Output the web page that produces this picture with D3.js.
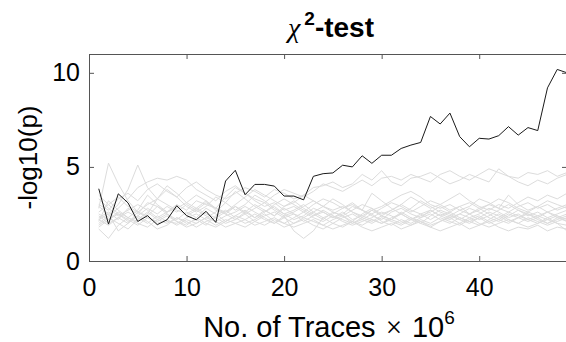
<!DOCTYPE html>
<html>
<head>
<meta charset="utf-8">
<script src="https://cdn.jsdelivr.net/npm/d3@7"></script>
<style>
  html, body { margin: 0; padding: 0; background: #fff; }
  svg { display: block; }
  text { font-family: "Liberation Sans", Arial, Helvetica, sans-serif; fill: #000; }
</style>
</head>
<body>
<svg id="chart" width="566" height="342"></svg>
<script>
// Trace counts (millions) at which the test statistic was evaluated
const traces = d3.range(1, 50);

// -log10(p) of the leaking key guess
const keyLine = [3.84,1.96,3.57,3.09,2.10,2.41,1.93,2.19,2.94,2.41,2.19,2.64,2.05,4.25,4.82,3.52,4.07,4.07,3.98,3.45,
  3.45,3.25,4.50,4.64,4.68,5.09,5.00,5.59,5.19,5.62,5.62,5.98,6.16,6.30,7.68,7.28,7.86,6.61,6.07,6.52,
  6.48,6.66,7.14,6.69,7.09,6.93,9.20,10.18,10.00];

// -log10(p) of the other key guesses
const g1  = [2.3,2.6,2.2,2.8,2.5,3.1,2.9,2.6,3.0,2.7,3.2,3.0,2.8,3.4,3.9,3.6,3.3,3.1,3.5,3.8,3.6,3.4,3.7,4.1,3.9,3.7,4.0,4.3,4.0,4.4,4.5,4.3,4.6,4.4,4.2,4.6,4.8,4.5,4.3,4.6,4.9,4.7,4.5,4.4,4.7,4.6,4.8,4.5,4.7];
const g2  = [3.0,2.7,3.3,3.6,3.2,3.8,4.1,3.7,3.4,3.9,4.2,3.8,3.5,3.3,3.6,3.9,3.7,3.4,3.8,3.6,3.3,3.5,3.9,4.0,4.2,3.9,4.1,4.6,4.3,4.8,4.2,4.0,4.4,4.5,4.7,4.4,4.1,4.3,4.6,4.4,4.2,4.9,4.5,4.2,4.0,4.3,4.1,4.4,4.6];
const g3  = [2.8,5.2,4.1,3.2,2.6,2.4,2.9,2.5,2.2,2.6,2.3,2.8,2.5,2.1,2.4,2.7,2.3,2.6,2.9,2.5,2.2,2.4,2.8,2.6,2.3,2.5,2.9,2.7,2.4,2.2,2.6,2.8,2.5,2.3,2.7,2.4,2.2,2.5,2.8,2.6,2.3,2.1,2.4,2.7,2.5,2.3,2.6,2.4,2.2];
const g4  = [2.2,2.5,3.0,3.8,5.1,3.9,3.3,4.0,3.6,3.1,2.8,3.2,2.7,2.5,2.9,2.6,2.3,2.7,2.4,2.9,3.2,2.8,2.5,2.2,2.6,2.4,2.1,2.5,2.8,2.4,2.2,2.6,2.3,2.0,2.4,2.7,2.5,2.2,2.0,2.3,2.6,2.4,2.1,2.3,2.5,2.2,2.0,2.3,2.1];
const g5  = [2.0,2.4,2.8,3.3,3.9,4.2,4.4,4.3,4.5,4.3,3.8,3.5,3.2,3.7,4.0,3.6,3.2,2.9,3.1,2.7,2.9,2.6,3.0,3.3,3.1,2.8,3.0,2.7,2.5,2.8,3.1,2.9,2.6,2.9,3.2,3.0,2.7,2.9,3.1,2.8,3.0,3.3,3.1,2.8,2.6,2.9,3.2,3.0,2.8];
const g6  = [1.7,1.2,1.9,2.3,2.0,1.8,2.2,2.5,2.1,1.9,2.3,2.0,1.8,2.1,2.4,2.2,1.9,2.1,2.3,2.0,1.8,2.0,2.2,1.9,1.7,1.9,2.1,1.8,1.6,1.8,2.0,1.7,1.9,2.1,1.8,1.6,1.8,2.0,1.7,1.9,2.1,1.8,1.6,1.8,1.7,1.9,1.6,1.8,1.7];
const g7  = [2.5,2.2,2.6,2.3,2.7,3.5,3.0,2.6,2.9,2.4,2.7,3.1,2.8,2.5,2.2,2.6,3.0,2.7,2.4,2.8,2.5,2.3,2.6,2.9,3.3,3.0,2.6,2.3,2.7,2.4,2.2,2.5,2.8,3.2,2.9,2.6,2.4,2.7,2.9,3.3,3.1,2.8,3.5,3.0,2.7,2.9,2.6,2.8,3.0];
const g8  = [2.9,2.5,1.6,2.0,2.4,2.1,1.7,1.9,2.3,2.0,2.2,1.9,2.4,2.7,2.3,2.0,2.2,2.5,2.1,1.8,2.0,2.3,2.1,1.9,2.2,2.4,2.0,2.2,2.5,2.1,1.9,2.2,2.0,2.3,2.5,2.2,2.0,2.3,2.1,1.9,2.2,2.5,2.2,2.0,2.3,2.1,1.9,2.1,2.3];
const g9  = [2.1,3.2,2.7,2.3,2.1,2.5,3.3,3.8,3.4,2.9,2.6,2.9,3.4,3.1,2.7,3.0,3.5,3.2,2.8,2.5,2.7,3.0,2.6,2.3,2.5,2.8,3.1,2.7,3.6,3.2,2.8,2.5,2.2,2.5,2.7,2.4,2.6,2.9,2.5,2.2,2.4,2.7,3.0,2.7,2.4,2.6,2.3,2.5,2.7];
const g10 = [2.4,2.0,2.3,2.6,2.3,2.0,2.4,2.1,2.0,2.3,2.5,2.2,1.9,2.2,2.0,1.8,2.1,2.4,2.6,2.3,2.0,2.2,1.9,1.7,2.0,2.3,2.5,2.2,2.0,2.3,2.1,1.9,2.2,2.0,1.8,2.1,2.4,2.2,2.5,2.8,2.5,2.2,2.0,2.3,2.6,2.4,2.2,2.0,1.9];
const g11 = [3.3,2.8,2.4,2.7,3.0,2.7,2.3,2.6,2.8,3.1,3.5,3.2,2.8,2.6,2.9,2.5,2.8,3.1,2.7,2.4,2.6,2.9,3.2,2.9,2.6,2.4,2.7,3.0,2.8,2.5,2.7,3.0,3.4,3.1,2.8,3.0,3.3,3.6,3.2,2.9,2.7,3.0,2.8,3.1,3.4,3.2,3.5,3.3,3.6];
const g12 = [1.9,2.3,2.0,1.7,2.2,2.6,2.2,2.0,2.3,2.1,1.8,2.1,2.3,2.0,2.2,2.5,2.1,1.9,2.2,2.0,2.3,2.6,2.3,2.1,2.4,2.1,1.9,2.1,2.3,2.6,2.4,2.1,1.9,2.2,2.0,2.3,2.1,1.9,2.2,2.4,2.1,2.3,2.6,2.4,2.2,2.0,2.2,2.4,2.1];
const g13 = [2.6,3.0,2.5,2.1,2.4,2.8,2.5,2.9,2.6,3.0,2.7,2.4,2.1,2.4,2.6,2.9,2.6,2.3,2.0,2.3,2.5,2.1,2.4,2.7,2.4,2.2,2.0,2.3,2.1,2.4,2.7,3.0,2.7,2.5,2.2,2.5,2.3,2.0,2.3,2.5,2.8,2.6,2.3,2.5,2.2,2.4,2.6,2.3,2.5];
const g14 = [2.2,1.9,2.3,2.0,2.6,2.3,2.0,2.2,1.9,2.2,2.0,2.3,2.6,3.1,3.7,3.3,2.9,2.6,3.0,3.3,3.0,2.7,2.4,2.6,2.3,2.6,2.2,2.4,2.2,2.0,2.3,2.5,2.2,2.4,2.6,2.9,2.6,2.3,2.1,2.3,2.0,2.2,2.5,2.3,2.1,2.3,2.0,2.2,2.4];
const g15 = [1.8,2.2,2.5,2.2,1.9,2.3,2.1,2.4,2.1,1.8,2.0,2.3,2.1,1.8,2.0,2.2,2.5,2.2,2.0,2.4,1.6,1.2,1.6,2.3,2.0,1.8,2.1,1.9,2.2,2.0,2.2,2.0,2.3,2.1,1.9,2.1,2.3,2.5,2.3,2.0,1.8,2.0,2.2,2.0,1.8,2.0,2.3,2.0,1.6];
const g16 = [3.5,3.0,3.4,2.9,2.6,3.0,3.3,3.0,2.7,2.5,2.8,2.5,2.3,2.6,3.0,3.4,3.8,3.5,3.2,2.9,3.1,3.5,3.2,2.9,2.7,2.9,2.6,2.4,2.7,2.9,3.2,3.5,3.7,3.4,3.0,2.8,3.0,2.7,2.5,2.7,3.0,2.8,2.6,2.9,3.1,2.8,3.0,2.7,2.9];
const otherLines = [g1, g2, g3, g4, g5, g6, g7, g8, g9, g10, g11, g12, g13, g14, g15, g16];

const xTicks = [0, 10, 20, 30, 40];
const yTicks = [0, 5, 10];

// Plot box
const box = { left: 89, right: 567, top: 54, bottom: 261 };

const svg = d3.select("#chart");
const x = d3.scaleLinear().domain([0, 49]).range([box.left, box.right]);
const y = d3.scaleLinear().domain([0, 11]).range([box.bottom, box.top]);

const line = d3.line()
  .x((d, i) => x(traces[i]))
  .y(d => y(d));

const plot = svg.append("g");

plot.selectAll("path.other")
  .data(otherLines)
  .join("path")
  .attr("class", "other")
  .attr("d", line)
  .attr("fill", "none")
  .attr("stroke", "#dcdcdc")
  .attr("stroke-width", 1);

plot.append("path")
  .datum(keyLine)
  .attr("d", line)
  .attr("fill", "none")
  .attr("stroke", "#1a1a1a")
  .attr("stroke-width", 1);

// Axes: box with inward ticks on all four sides
const axisColor = "#555";
const tickLen = 5;
const tickFont = 25;

function styleAxis(g) {
  g.select(".domain").attr("stroke", axisColor);
  g.selectAll(".tick line").attr("stroke", axisColor);
  g.selectAll(".tick text")
    .attr("font-size", tickFont)
    .attr("fill", "#000")
    .attr("font-family", "'Liberation Sans', Arial, sans-serif");
}

svg.append("g")
  .attr("transform", `translate(0,${box.bottom})`)
  .call(d3.axisBottom(x).tickValues(xTicks).tickSize(-tickLen).tickPadding(17).tickSizeOuter(0))
  .call(styleAxis);

svg.append("g")
  .attr("transform", `translate(0,${box.top})`)
  .call(d3.axisTop(x).tickValues(xTicks).tickSize(-tickLen).tickFormat("").tickSizeOuter(0))
  .call(styleAxis);

svg.append("g")
  .attr("transform", `translate(${box.left},0)`)
  .call(d3.axisLeft(y).tickValues(yTicks).tickSize(-tickLen).tickPadding(9).tickSizeOuter(0))
  .call(styleAxis);

svg.append("g")
  .attr("transform", `translate(${box.right},0)`)
  .call(d3.axisRight(y).tickValues(yTicks).tickSize(-tickLen).tickFormat("").tickSizeOuter(0))
  .call(styleAxis);

// Title
const title = svg.append("text")
  .attr("x", (box.left + box.right) / 2 + 3)
  .attr("y", 37)
  .attr("text-anchor", "middle")
  .attr("font-size", 28);
title.append("tspan")
  .attr("font-family", "'Liberation Serif', 'Times New Roman', serif")
  .attr("font-style", "italic")
  .text("χ");
title.append("tspan")
  .attr("font-weight", "bold")
  .attr("font-size", 19)
  .attr("dy", -12)
  .attr("dx", 4)
  .text("2");
title.append("tspan")
  .attr("font-weight", "bold")
  .attr("dy", 12)
  .text("-test");

// Axis labels
const xl = svg.append("text")
  .attr("x", (box.left + box.right) / 2 + 1)
  .attr("y", 337)
  .attr("text-anchor", "middle")
  .attr("font-size", 29);
xl.append("tspan").text("No. of Traces");
xl.append("tspan")
  .attr("dx", 10)
  .attr("font-family", "'Liberation Serif', 'Times New Roman', serif")
  .text("×");
xl.append("tspan").attr("dx", 10).text("10");
xl.append("tspan")
  .attr("font-size", 19)
  .attr("dy", -13)
  .text("6");

svg.append("text")
  .attr("transform", `translate(37,${(box.top + box.bottom) / 2}) rotate(-90)`)
  .attr("text-anchor", "middle")
  .attr("font-size", 26)
  .text("-log10(p)");
</script>
</body>
</html>
